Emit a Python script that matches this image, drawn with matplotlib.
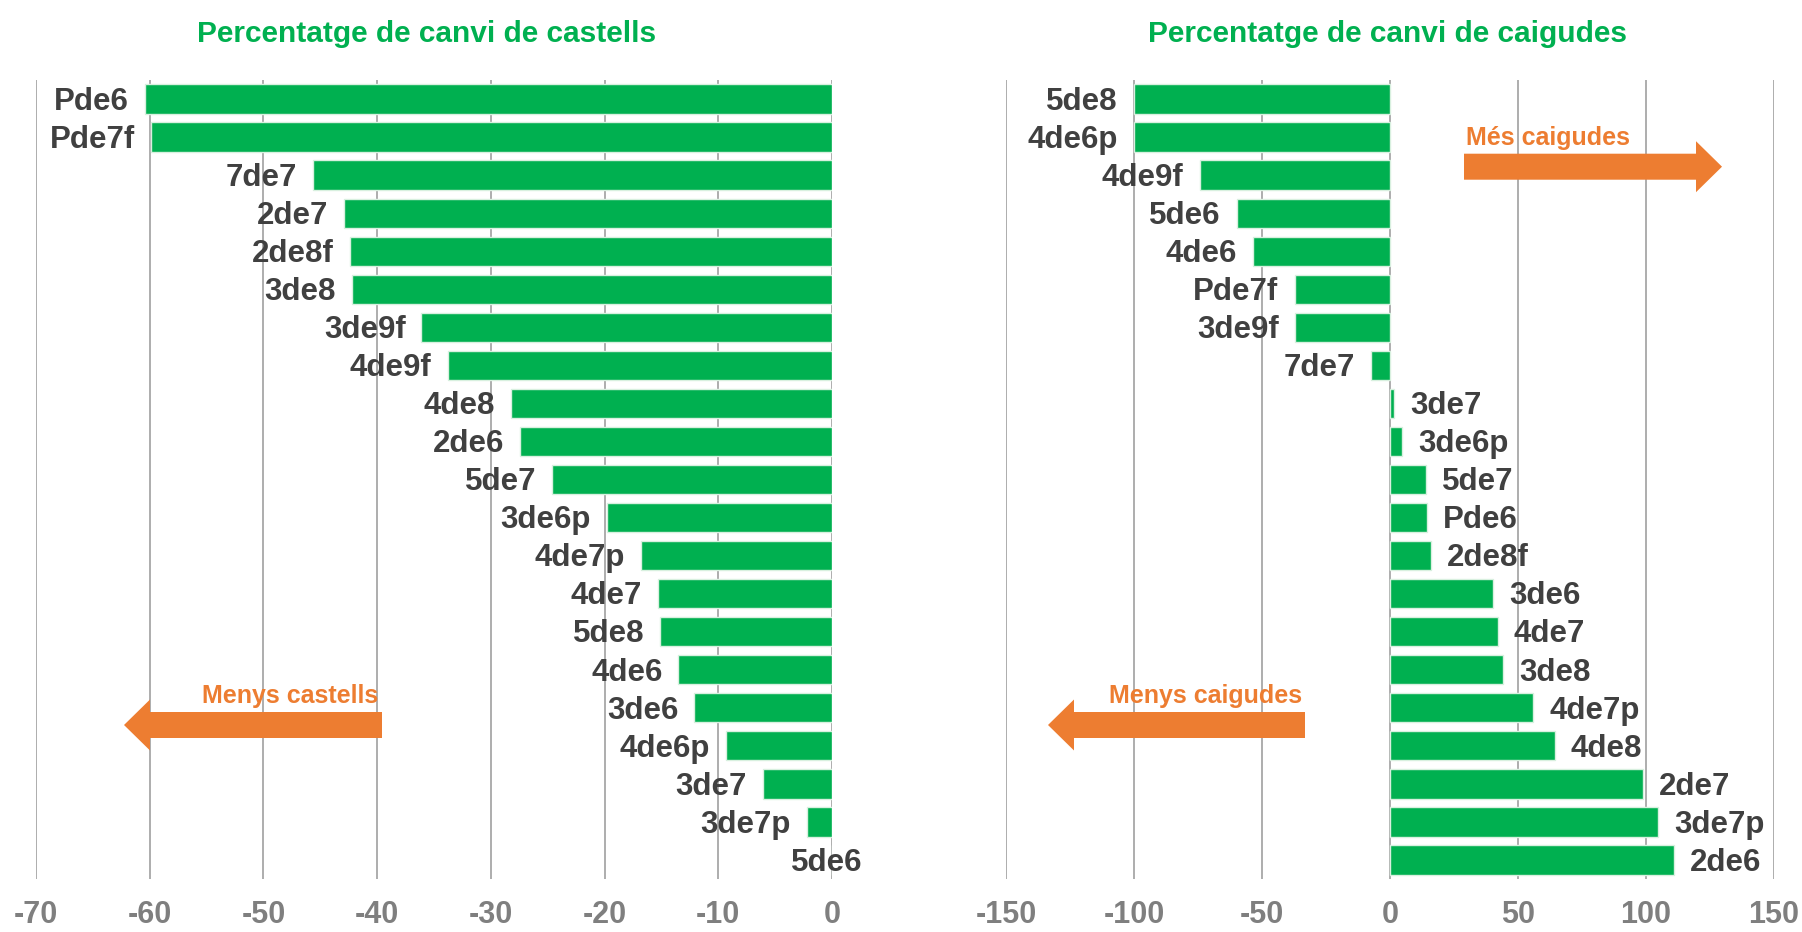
import matplotlib
matplotlib.use('Agg')
import matplotlib.pyplot as plt
import numpy as np
from matplotlib import font_manager
from matplotlib.patches import Polygon

# castells (left chart), top to bottom
cast_labels = ['Pde6', 'Pde7f', '7de7', '2de7', '2de8f', '3de8', '3de9f', '4de9f', '4de8', '2de6',
               '5de7', '3de6p', '4de7p', '4de7', '5de8', '4de6', '3de6', '4de6p', '3de7', '3de7p', '5de6']
cast_vals = [-60.4, -59.9, -45.6, -42.9, -42.4, -42.2, -36.1, -33.8, -28.2, -27.4,
             -24.6, -19.8, -16.8, -15.3, -15.1, -13.5, -12.1, -9.3, -6.1, -2.2, 0]

# caigudes (right chart), top to bottom
caig_labels = ['5de8', '4de6p', '4de9f', '5de6', '4de6', 'Pde7f', '3de9f', '7de7', '3de7', '3de6p',
               '5de7', 'Pde6', '2de8f', '3de6', '4de7', '3de8', '4de7p', '4de8', '2de7', '3de7p', '2de6']
caig_vals = [-100, -100, -74.4, -59.8, -53.5, -37.3, -37.1, -7.6, 1.6, 4.7,
             13.9, 14.4, 16.0, 40.2, 42.0, 44.3, 56.0, 64.3, 98.7, 104.7, 111.0]

cast_ticks = [-70, -60, -50, -40, -30, -20, -10, 0]
caig_ticks = [-150, -100, -50, 0, 50, 100, 150]

green = '#00b050'
orange = '#ed7d31'
dark = '#404040'
grey = '#7f7f7f'

names = {f.name for f in font_manager.fontManager.ttflist}
if 'Liberation Sans Narrow' in names:
    narrow = 'Liberation Sans Narrow'
    title_size, note_size = 26, 21.5
else:
    narrow = 'Liberation Sans'
    title_size, note_size = 21.5, 18

plt.rcParams['font.family'] = ['Liberation Sans', 'DejaVu Sans']
plt.rcParams['axes.unicode_minus'] = False

W, H = 1802, 932
fig = plt.figure(figsize=(W / 100, H / 100), dpi=100)

def px(x, y):
    return (x / W, 1 - y / H)

def draw_panel(ax, labels, vals, ticks):
    y = np.arange(len(labels))
    ax.barh(y, vals, height=0.77, color=green, edgecolor='#d8f0df', linewidth=1, zorder=2)
    ax.set_ylim(len(labels) - 0.5, -0.5)
    ax.set_xlim(ticks[0], ticks[-1])
    ax.set_xticks(ticks)
    ax.set_xticklabels([str(t) for t in ticks], fontsize=22, fontweight='bold', color=grey)
    ax.tick_params(axis='x', length=0, pad=15)
    ax.set_yticks([])
    for s in ax.spines.values():
        s.set_visible(False)
    ax.grid(axis='x', color='#a0a0a0', linewidth=1.2, zorder=0)
    ax.set_axisbelow(True)
    for yi, v, lab in zip(y, vals, labels):
        if v < 0:
            ha, off = 'right', -11.5
        elif v > 0:
            ha, off = 'left', 11.5
        else:
            ha, off = 'center', -4
        ax.annotate(lab, (v, yi), xytext=(off, -2), textcoords='offset points',
                    ha=ha, va='center', fontsize=22.5, fontweight='bold', color=dark,
                    annotation_clip=False, zorder=3)

ax1 = fig.add_axes([36 / W, 1 - 879 / H, 796 / W, 799 / H])
draw_panel(ax1, cast_labels, cast_vals, cast_ticks)
ax2 = fig.add_axes([1006 / W, 1 - 879 / H, 768 / W, 799 / H])
draw_panel(ax2, caig_labels, caig_vals, caig_ticks)

# titles
fig.text(*px(427, 42), 'Percentatge de canvi de castells', ha='center', va='baseline',
         fontsize=title_size, fontweight='bold', color=green, family=narrow)
fig.text(*px(1387, 42), 'Percentatge de canvi de caigudes', ha='center', va='baseline',
         fontsize=title_size, fontweight='bold', color=green, family=narrow)

# arrows
def arrow(tail, tip, yc, body=26, head=51, head_len=26):
    d = 1 if tip > tail else -1
    hb = tip - d * head_len
    pts = [(tail, yc - body / 2), (hb, yc - body / 2), (hb, yc - head / 2), (tip, yc),
           (hb, yc + head / 2), (hb, yc + body / 2), (tail, yc + body / 2)]
    fig.add_artist(Polygon([px(a, b) for a, b in pts], closed=True, facecolor=orange,
                           edgecolor='none', transform=fig.transFigure, zorder=5))

arrow(382, 124, 725)
arrow(1305, 1048, 725)
arrow(1464, 1722, 166.7)

fig.text(*px(378, 703), 'Menys castells', ha='right', va='baseline',
         fontsize=note_size, fontweight='bold', color=orange, family=narrow)
fig.text(*px(1302, 703), 'Menys caigudes', ha='right', va='baseline',
         fontsize=note_size, fontweight='bold', color=orange, family=narrow)
fig.text(*px(1466, 145), 'Més caigudes', ha='left', va='baseline',
         fontsize=note_size, fontweight='bold', color=orange, family=narrow)

fig.savefig('out.png', dpi=100, facecolor='white')
